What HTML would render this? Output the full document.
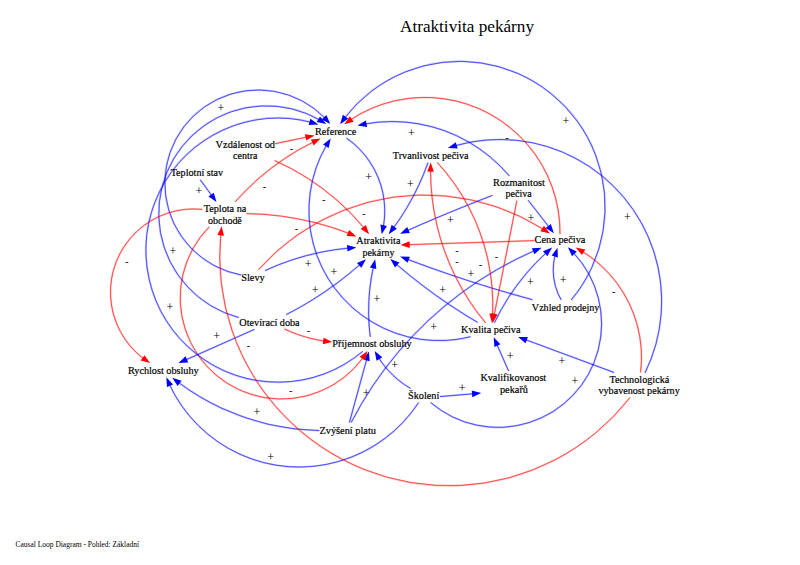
<!DOCTYPE html>
<html lang="cs"><head><meta charset="utf-8"><title>Atraktivita pekárny</title>
<style>html,body{margin:0;padding:0;background:#fff}body{width:800px;height:565px;overflow:hidden}svg{display:block}</style>
</head><body>
<svg width="800" height="565" viewBox="0 0 800 565">
<g stroke-width="2.0" stroke-opacity="0.22" stroke-linecap="butt">
<path d="M200.20 179.60L211.98 195.86" stroke="#0000ff" fill="none"/>
<path d="M275.00 143.70L307.06 137.06" stroke="#ff0000" fill="none"/>
<path d="M235.10 201.90A254.56 254.56 0 0 1 258.59 178.50A254.56 254.56 0 0 1 284.92 158.35A254.56 254.56 0 0 1 313.64 141.80" stroke="#ff0000" fill="none"/>
<path d="M274.40 160.40A244.80 244.80 0 0 1 307.75 178.26A244.80 244.80 0 0 1 337.95 201.04A244.80 244.80 0 0 1 364.28 228.20" stroke="#ff0000" fill="none"/>
<path d="M246.30 213.60A294.58 294.58 0 0 1 281.33 216.12A294.58 294.58 0 0 1 315.81 222.79A294.58 294.58 0 0 1 349.26 233.52" stroke="#ff0000" fill="none"/>
<path d="M265.00 270.60A254.64 254.64 0 0 1 291.99 259.92A254.64 254.64 0 0 1 320.02 252.39A254.64 254.64 0 0 1 348.72 248.09" stroke="#0000ff" fill="none"/>
<path d="M258.50 269.70A222.32 222.32 0 0 1 343.25 210.48A222.32 222.32 0 0 1 445.61 196.00A222.32 222.32 0 0 1 543.46 229.38" stroke="#ff0000" fill="none"/>
<path d="M346.50 138.10A88.87 88.87 0 0 1 369.99 162.10A88.87 88.87 0 0 1 382.90 193.11A88.87 88.87 0 0 1 383.37 226.69" stroke="#0000ff" fill="none"/>
<path d="M470.60 336.70A130.07 130.07 0 0 1 372.59 322.36A130.07 130.07 0 0 1 313.10 243.16A130.07 130.07 0 0 1 326.63 145.03" stroke="#0000ff" fill="none"/>
<path d="M428.00 162.60A250.25 250.25 0 0 1 418.64 185.53A250.25 250.25 0 0 1 407.05 207.43A250.25 250.25 0 0 1 393.36 228.07" stroke="#0000ff" fill="none"/>
<path d="M492.50 195.40A1776.29 1776.29 0 0 0 463.84 206.66A1776.29 1776.29 0 0 0 435.38 218.41A1776.29 1776.29 0 0 0 407.13 230.66" stroke="#0000ff" fill="none"/>
<path d="M534.60 240.60L408.20 244.65" stroke="#ff0000" fill="none"/>
<path d="M532.50 299.70A1316.59 1316.59 0 0 1 490.32 287.61A1316.59 1316.59 0 0 1 448.57 274.12A1316.59 1316.59 0 0 1 407.29 259.25" stroke="#0000ff" fill="none"/>
<path d="M477.60 322.40A549.86 549.86 0 0 1 449.26 304.59A549.86 549.86 0 0 1 422.06 285.10A549.86 549.86 0 0 1 396.09 263.98" stroke="#0000ff" fill="none"/>
<path d="M370.20 336.80A206.18 206.18 0 0 1 368.60 313.36A206.18 206.18 0 0 1 369.67 289.89A206.18 206.18 0 0 1 373.40 266.69" stroke="#0000ff" fill="none"/>
<path d="M286.20 314.70A360.87 360.87 0 0 0 312.26 299.99A360.87 360.87 0 0 0 337.00 283.16A360.87 360.87 0 0 0 360.27 264.35" stroke="#0000ff" fill="none"/>
<path d="M351.20 422.50A374.55 374.55 0 0 1 398.60 351.68A374.55 374.55 0 0 1 460.77 293.41A374.55 374.55 0 0 1 534.51 250.70" stroke="#0000ff" fill="none"/>
<path d="M349.40 422.50L366.86 358.83" stroke="#0000ff" fill="none"/>
<path d="M410.60 388.50A93.25 93.25 0 0 1 398.32 380.02A93.25 93.25 0 0 1 387.54 369.68A93.25 93.25 0 0 1 378.56 357.76" stroke="#0000ff" fill="none"/>
<path d="M284.40 329.00A145.95 145.95 0 0 0 297.41 334.34A145.95 145.95 0 0 0 310.87 338.41A145.95 145.95 0 0 0 324.66 341.16" stroke="#ff0000" fill="none"/>
<path d="M209.30 226.80A101.22 101.22 0 0 0 185.32 329.52A101.22 101.22 0 0 0 265.73 397.79A101.22 101.22 0 0 0 363.20 357.49" stroke="#ff0000" fill="none"/>
<path d="M362.70 351.40A132.05 132.05 0 0 1 196.27 353.86A132.05 132.05 0 0 1 159.64 191.49A132.05 132.05 0 0 1 311.01 122.26" stroke="#0000ff" fill="none"/>
<path d="M238.70 317.50A107.63 107.63 0 0 1 160.45 232.50A107.63 107.63 0 0 1 204.26 125.60A107.63 107.63 0 0 1 319.65 119.95" stroke="#0000ff" fill="none"/>
<path d="M241.20 275.00A93.29 93.29 0 0 1 165.71 195.83A93.29 93.29 0 0 1 217.32 99.38A93.29 93.29 0 0 1 325.07 118.26" stroke="#0000ff" fill="none"/>
<path d="M202.40 209.40A83.25 83.25 0 0 0 136.21 232.03A83.25 83.25 0 0 0 110.63 297.14A83.25 83.25 0 0 0 143.74 358.77" stroke="#ff0000" fill="none"/>
<path d="M254.40 329.40L185.54 359.98" stroke="#0000ff" fill="none"/>
<path d="M319.40 430.60A242.38 242.38 0 0 1 269.37 424.52A242.38 242.38 0 0 1 221.68 408.22A242.38 242.38 0 0 1 178.39 382.41" stroke="#0000ff" fill="none"/>
<path d="M418.70 402.50A143.11 143.11 0 0 1 338.84 461.41A143.11 143.11 0 0 1 239.86 454.21A143.11 143.11 0 0 1 169.36 384.36" stroke="#0000ff" fill="none"/>
<path d="M440.00 396.60L473.53 393.75" stroke="#0000ff" fill="none"/>
<path d="M430.60 402.50A103.62 103.62 0 0 0 528.94 422.62A103.62 103.62 0 0 0 598.19 349.96A103.62 103.62 0 0 0 573.38 252.70" stroke="#0000ff" fill="none"/>
<path d="M508.70 371.20L496.81 344.24" stroke="#0000ff" fill="none"/>
<path d="M614.10 372.50L525.32 339.58" stroke="#0000ff" fill="none"/>
<path d="M640.60 372.50A124.61 124.61 0 0 0 637.37 325.60A124.61 124.61 0 0 0 616.99 283.24A124.61 124.61 0 0 0 582.37 251.44" stroke="#ff0000" fill="none"/>
<path d="M630.00 397.50A229.44 229.44 0 0 1 460.39 485.46A229.44 229.44 0 0 1 282.99 414.51A229.44 229.44 0 0 1 220.82 233.85" stroke="#ff0000" fill="none"/>
<path d="M645.00 372.90A161.89 161.89 0 0 0 653.88 251.77A161.89 161.89 0 0 0 576.03 158.55A161.89 161.89 0 0 0 455.25 145.71" stroke="#0000ff" fill="none"/>
<path d="M571.20 300.00A145.34 145.34 0 0 0 595.60 155.00A145.34 145.34 0 0 0 480.97 62.90A145.34 145.34 0 0 0 344.64 117.98" stroke="#0000ff" fill="none"/>
<path d="M560.00 234.20A135.06 135.06 0 0 0 527.41 144.46A135.06 135.06 0 0 0 443.62 98.69A135.06 135.06 0 0 0 350.50 119.77" stroke="#ff0000" fill="none"/>
<path d="M509.40 176.00A153.45 153.45 0 0 0 468.47 141.87A153.45 153.45 0 0 0 418.34 123.79A153.45 153.45 0 0 0 365.04 123.95" stroke="#0000ff" fill="none"/>
<path d="M528.10 200.20L549.17 227.23" stroke="#0000ff" fill="none"/>
<path d="M516.90 200.60L494.10 315.35" stroke="#ff0000" fill="none"/>
<path d="M437.20 162.40A210.03 210.03 0 0 1 469.07 207.79A210.03 210.03 0 0 1 487.95 259.94A210.03 210.03 0 0 1 492.53 315.22" stroke="#ff0000" fill="none"/>
<path d="M485.60 322.90A238.22 238.22 0 0 1 455.50 276.72A238.22 238.22 0 0 1 436.82 224.86A238.22 238.22 0 0 1 430.56 170.10" stroke="#ff0000" fill="none"/>
<path d="M494.40 322.70A227.20 227.20 0 0 1 508.65 297.20A227.20 227.20 0 0 1 526.05 273.73A227.20 227.20 0 0 1 546.32 252.69" stroke="#0000ff" fill="none"/>
<path d="M561.20 300.00A60.30 60.30 0 0 1 555.29 285.70A60.30 60.30 0 0 1 553.22 270.37A60.30 60.30 0 0 1 555.11 255.02" stroke="#0000ff" fill="none"/>
</g>
<g stroke-width="1.0" stroke-opacity="0.62" stroke-linecap="butt">
<path d="M200.20 179.60L211.98 195.86" stroke="#0000ff" fill="none"/>
<path d="M275.00 143.70L307.06 137.06" stroke="#ff0000" fill="none"/>
<path d="M235.10 201.90A254.56 254.56 0 0 1 258.59 178.50A254.56 254.56 0 0 1 284.92 158.35A254.56 254.56 0 0 1 313.64 141.80" stroke="#ff0000" fill="none"/>
<path d="M274.40 160.40A244.80 244.80 0 0 1 307.75 178.26A244.80 244.80 0 0 1 337.95 201.04A244.80 244.80 0 0 1 364.28 228.20" stroke="#ff0000" fill="none"/>
<path d="M246.30 213.60A294.58 294.58 0 0 1 281.33 216.12A294.58 294.58 0 0 1 315.81 222.79A294.58 294.58 0 0 1 349.26 233.52" stroke="#ff0000" fill="none"/>
<path d="M265.00 270.60A254.64 254.64 0 0 1 291.99 259.92A254.64 254.64 0 0 1 320.02 252.39A254.64 254.64 0 0 1 348.72 248.09" stroke="#0000ff" fill="none"/>
<path d="M258.50 269.70A222.32 222.32 0 0 1 343.25 210.48A222.32 222.32 0 0 1 445.61 196.00A222.32 222.32 0 0 1 543.46 229.38" stroke="#ff0000" fill="none"/>
<path d="M346.50 138.10A88.87 88.87 0 0 1 369.99 162.10A88.87 88.87 0 0 1 382.90 193.11A88.87 88.87 0 0 1 383.37 226.69" stroke="#0000ff" fill="none"/>
<path d="M470.60 336.70A130.07 130.07 0 0 1 372.59 322.36A130.07 130.07 0 0 1 313.10 243.16A130.07 130.07 0 0 1 326.63 145.03" stroke="#0000ff" fill="none"/>
<path d="M428.00 162.60A250.25 250.25 0 0 1 418.64 185.53A250.25 250.25 0 0 1 407.05 207.43A250.25 250.25 0 0 1 393.36 228.07" stroke="#0000ff" fill="none"/>
<path d="M492.50 195.40A1776.29 1776.29 0 0 0 463.84 206.66A1776.29 1776.29 0 0 0 435.38 218.41A1776.29 1776.29 0 0 0 407.13 230.66" stroke="#0000ff" fill="none"/>
<path d="M534.60 240.60L408.20 244.65" stroke="#ff0000" fill="none"/>
<path d="M532.50 299.70A1316.59 1316.59 0 0 1 490.32 287.61A1316.59 1316.59 0 0 1 448.57 274.12A1316.59 1316.59 0 0 1 407.29 259.25" stroke="#0000ff" fill="none"/>
<path d="M477.60 322.40A549.86 549.86 0 0 1 449.26 304.59A549.86 549.86 0 0 1 422.06 285.10A549.86 549.86 0 0 1 396.09 263.98" stroke="#0000ff" fill="none"/>
<path d="M370.20 336.80A206.18 206.18 0 0 1 368.60 313.36A206.18 206.18 0 0 1 369.67 289.89A206.18 206.18 0 0 1 373.40 266.69" stroke="#0000ff" fill="none"/>
<path d="M286.20 314.70A360.87 360.87 0 0 0 312.26 299.99A360.87 360.87 0 0 0 337.00 283.16A360.87 360.87 0 0 0 360.27 264.35" stroke="#0000ff" fill="none"/>
<path d="M351.20 422.50A374.55 374.55 0 0 1 398.60 351.68A374.55 374.55 0 0 1 460.77 293.41A374.55 374.55 0 0 1 534.51 250.70" stroke="#0000ff" fill="none"/>
<path d="M349.40 422.50L366.86 358.83" stroke="#0000ff" fill="none"/>
<path d="M410.60 388.50A93.25 93.25 0 0 1 398.32 380.02A93.25 93.25 0 0 1 387.54 369.68A93.25 93.25 0 0 1 378.56 357.76" stroke="#0000ff" fill="none"/>
<path d="M284.40 329.00A145.95 145.95 0 0 0 297.41 334.34A145.95 145.95 0 0 0 310.87 338.41A145.95 145.95 0 0 0 324.66 341.16" stroke="#ff0000" fill="none"/>
<path d="M209.30 226.80A101.22 101.22 0 0 0 185.32 329.52A101.22 101.22 0 0 0 265.73 397.79A101.22 101.22 0 0 0 363.20 357.49" stroke="#ff0000" fill="none"/>
<path d="M362.70 351.40A132.05 132.05 0 0 1 196.27 353.86A132.05 132.05 0 0 1 159.64 191.49A132.05 132.05 0 0 1 311.01 122.26" stroke="#0000ff" fill="none"/>
<path d="M238.70 317.50A107.63 107.63 0 0 1 160.45 232.50A107.63 107.63 0 0 1 204.26 125.60A107.63 107.63 0 0 1 319.65 119.95" stroke="#0000ff" fill="none"/>
<path d="M241.20 275.00A93.29 93.29 0 0 1 165.71 195.83A93.29 93.29 0 0 1 217.32 99.38A93.29 93.29 0 0 1 325.07 118.26" stroke="#0000ff" fill="none"/>
<path d="M202.40 209.40A83.25 83.25 0 0 0 136.21 232.03A83.25 83.25 0 0 0 110.63 297.14A83.25 83.25 0 0 0 143.74 358.77" stroke="#ff0000" fill="none"/>
<path d="M254.40 329.40L185.54 359.98" stroke="#0000ff" fill="none"/>
<path d="M319.40 430.60A242.38 242.38 0 0 1 269.37 424.52A242.38 242.38 0 0 1 221.68 408.22A242.38 242.38 0 0 1 178.39 382.41" stroke="#0000ff" fill="none"/>
<path d="M418.70 402.50A143.11 143.11 0 0 1 338.84 461.41A143.11 143.11 0 0 1 239.86 454.21A143.11 143.11 0 0 1 169.36 384.36" stroke="#0000ff" fill="none"/>
<path d="M440.00 396.60L473.53 393.75" stroke="#0000ff" fill="none"/>
<path d="M430.60 402.50A103.62 103.62 0 0 0 528.94 422.62A103.62 103.62 0 0 0 598.19 349.96A103.62 103.62 0 0 0 573.38 252.70" stroke="#0000ff" fill="none"/>
<path d="M508.70 371.20L496.81 344.24" stroke="#0000ff" fill="none"/>
<path d="M614.10 372.50L525.32 339.58" stroke="#0000ff" fill="none"/>
<path d="M640.60 372.50A124.61 124.61 0 0 0 637.37 325.60A124.61 124.61 0 0 0 616.99 283.24A124.61 124.61 0 0 0 582.37 251.44" stroke="#ff0000" fill="none"/>
<path d="M630.00 397.50A229.44 229.44 0 0 1 460.39 485.46A229.44 229.44 0 0 1 282.99 414.51A229.44 229.44 0 0 1 220.82 233.85" stroke="#ff0000" fill="none"/>
<path d="M645.00 372.90A161.89 161.89 0 0 0 653.88 251.77A161.89 161.89 0 0 0 576.03 158.55A161.89 161.89 0 0 0 455.25 145.71" stroke="#0000ff" fill="none"/>
<path d="M571.20 300.00A145.34 145.34 0 0 0 595.60 155.00A145.34 145.34 0 0 0 480.97 62.90A145.34 145.34 0 0 0 344.64 117.98" stroke="#0000ff" fill="none"/>
<path d="M560.00 234.20A135.06 135.06 0 0 0 527.41 144.46A135.06 135.06 0 0 0 443.62 98.69A135.06 135.06 0 0 0 350.50 119.77" stroke="#ff0000" fill="none"/>
<path d="M509.40 176.00A153.45 153.45 0 0 0 468.47 141.87A153.45 153.45 0 0 0 418.34 123.79A153.45 153.45 0 0 0 365.04 123.95" stroke="#0000ff" fill="none"/>
<path d="M528.10 200.20L549.17 227.23" stroke="#0000ff" fill="none"/>
<path d="M516.90 200.60L494.10 315.35" stroke="#ff0000" fill="none"/>
<path d="M437.20 162.40A210.03 210.03 0 0 1 469.07 207.79A210.03 210.03 0 0 1 487.95 259.94A210.03 210.03 0 0 1 492.53 315.22" stroke="#ff0000" fill="none"/>
<path d="M485.60 322.90A238.22 238.22 0 0 1 455.50 276.72A238.22 238.22 0 0 1 436.82 224.86A238.22 238.22 0 0 1 430.56 170.10" stroke="#ff0000" fill="none"/>
<path d="M494.40 322.70A227.20 227.20 0 0 1 508.65 297.20A227.20 227.20 0 0 1 526.05 273.73A227.20 227.20 0 0 1 546.32 252.69" stroke="#0000ff" fill="none"/>
<path d="M561.20 300.00A60.30 60.30 0 0 1 555.29 285.70A60.30 60.30 0 0 1 553.22 270.37A60.30 60.30 0 0 1 555.11 255.02" stroke="#0000ff" fill="none"/>
</g>
<g>
<polygon points="216.50,202.10 208.43,196.59 213.78,192.71" fill="#0000ff"/>
<polygon points="314.60,135.50 306.26,140.60 304.92,134.13" fill="#ff0000"/>
<polygon points="320.60,138.50 313.72,145.44 310.88,139.49" fill="#ff0000"/>
<polygon points="369.10,234.20 360.75,229.12 365.88,224.97" fill="#ff0000"/>
<polygon points="356.40,236.40 346.63,236.05 349.08,229.92" fill="#ff0000"/>
<polygon points="356.40,247.50 347.49,251.52 346.97,244.94" fill="#0000ff"/>
<polygon points="549.90,233.60 540.39,231.34 543.99,225.81" fill="#ff0000"/>
<polygon points="381.70,234.20 380.40,224.52 386.85,225.90" fill="#0000ff"/>
<polygon points="330.70,138.50 328.69,148.06 323.07,144.61" fill="#0000ff"/>
<polygon points="388.70,234.20 391.62,224.87 396.88,228.85" fill="#0000ff"/>
<polygon points="400.10,233.80 407.16,227.04 409.85,233.07" fill="#0000ff"/>
<polygon points="400.50,244.90 409.59,241.31 409.80,247.90" fill="#ff0000"/>
<polygon points="400.10,256.50 409.87,256.70 407.52,262.87" fill="#0000ff"/>
<polygon points="390.30,258.90 399.40,262.47 395.05,267.44" fill="#0000ff"/>
<polygon points="375.20,259.20 376.30,268.91 369.88,267.40" fill="#0000ff"/>
<polygon points="366.00,259.20 361.35,267.79 356.94,262.88" fill="#0000ff"/>
<polygon points="541.60,247.70 534.43,254.34 531.84,248.27" fill="#0000ff"/>
<polygon points="368.90,351.40 369.65,361.15 363.28,359.40" fill="#0000ff"/>
<polygon points="374.70,351.10 382.21,357.35 376.53,360.70" fill="#0000ff"/>
<polygon points="332.30,342.10 322.76,344.20 323.60,337.66" fill="#ff0000"/>
<polygon points="367.50,351.10 365.03,360.55 359.58,356.83" fill="#ff0000"/>
<polygon points="318.40,124.40 308.65,125.07 310.45,118.72" fill="#0000ff"/>
<polygon points="326.20,124.00 316.63,122.04 320.06,116.40" fill="#0000ff"/>
<polygon points="330.20,124.00 321.57,119.41 326.46,114.97" fill="#0000ff"/>
<polygon points="150.10,363.10 140.66,360.57 144.43,355.14" fill="#ff0000"/>
<polygon points="178.50,363.10 185.57,356.35 188.25,362.38" fill="#0000ff"/>
<polygon points="172.30,377.70 181.61,380.68 177.59,385.92" fill="#0000ff"/>
<polygon points="166.30,377.30 173.02,384.39 166.98,387.05" fill="#0000ff"/>
<polygon points="481.20,393.10 472.31,397.17 471.75,390.59" fill="#0000ff"/>
<polygon points="567.90,247.30 576.74,251.47 572.07,256.14" fill="#0000ff"/>
<polygon points="493.70,337.20 500.43,344.29 494.39,346.95" fill="#0000ff"/>
<polygon points="518.10,336.90 527.87,337.00 525.58,343.19" fill="#0000ff"/>
<polygon points="575.70,247.60 585.31,249.39 581.98,255.09" fill="#ff0000"/>
<polygon points="221.70,226.20 223.96,235.71 217.40,234.98" fill="#ff0000"/>
<polygon points="447.90,148.00 455.73,142.15 457.66,148.46" fill="#0000ff"/>
<polygon points="340.10,124.20 342.90,114.84 348.21,118.75" fill="#0000ff"/>
<polygon points="344.20,124.20 349.87,116.24 353.64,121.67" fill="#ff0000"/>
<polygon points="357.50,125.50 365.87,120.46 367.17,126.93" fill="#0000ff"/>
<polygon points="553.90,233.30 545.64,228.07 550.85,224.02" fill="#0000ff"/>
<polygon points="492.60,322.90 491.16,313.23 497.63,314.52" fill="#ff0000"/>
<polygon points="492.00,322.90 489.30,313.51 495.89,313.93" fill="#ff0000"/>
<polygon points="430.70,162.40 433.86,171.65 427.26,171.55" fill="#ff0000"/>
<polygon points="552.10,247.60 547.41,256.18 543.03,251.24" fill="#0000ff"/>
<polygon points="557.50,247.70 557.91,257.46 551.61,255.49" fill="#0000ff"/>
</g>
<g font-family="'Liberation Serif','Times New Roman',serif" fill="#000" stroke="#000" stroke-width="0.2" text-anchor="middle">
<text x="467" y="32.4" font-size="17.4" textLength="134" lengthAdjust="spacingAndGlyphs" stroke="none">Atraktivita pekárny</text>
<text x="77.3" y="547.4" font-size="8.5" textLength="123.5" lengthAdjust="spacingAndGlyphs" stroke="none">Causal Loop Diagram - Pohled: Základní</text>
<text x="335.6" y="135.1" font-size="11.1" textLength="41.1" lengthAdjust="spacingAndGlyphs">Reference</text>
<text x="245.3" y="147.6" font-size="11.1" textLength="59.4" lengthAdjust="spacingAndGlyphs">Vzdálenost od</text>
<text x="245.3" y="158.9" font-size="11.1" textLength="24.4" lengthAdjust="spacingAndGlyphs">centra</text>
<text x="196.9" y="176.1" font-size="11.1" textLength="52.5" lengthAdjust="spacingAndGlyphs">Teplotní stav</text>
<text x="225" y="212.1" font-size="11.1" textLength="42.7" lengthAdjust="spacingAndGlyphs">Teplota na</text>
<text x="224.9" y="223.9" font-size="11.1" textLength="33.8" lengthAdjust="spacingAndGlyphs">obchodě</text>
<text x="253" y="281.0" font-size="11.1" textLength="23.5" lengthAdjust="spacingAndGlyphs">Slevy</text>
<text x="269.5" y="325.8" font-size="11.1" textLength="60.3" lengthAdjust="spacingAndGlyphs">Otevírací doba</text>
<text x="163.3" y="373.6" font-size="11.1" textLength="70.8" lengthAdjust="spacingAndGlyphs">Rychlost obsluhy</text>
<text x="372" y="346.8" font-size="11.1" textLength="79.3" lengthAdjust="spacingAndGlyphs">Příjemnost obsluhy</text>
<text x="347.7" y="433.5" font-size="11.1" textLength="56.6" lengthAdjust="spacingAndGlyphs">Zvýšení platu</text>
<text x="423.7" y="398.5" font-size="11.1" textLength="31.3" lengthAdjust="spacingAndGlyphs">Školení</text>
<text x="513.3" y="381.0" font-size="11.1" textLength="65.8" lengthAdjust="spacingAndGlyphs">Kvalifikovanost</text>
<text x="514" y="393.3" font-size="11.1" textLength="28.1" lengthAdjust="spacingAndGlyphs">pekařů</text>
<text x="639.4" y="382.6" font-size="11.1" textLength="60" lengthAdjust="spacingAndGlyphs">Technologická</text>
<text x="639.1" y="394.1" font-size="11.1" textLength="81.2" lengthAdjust="spacingAndGlyphs">vybavenost pekárny</text>
<text x="490.8" y="332.7" font-size="11.1" textLength="59.5" lengthAdjust="spacingAndGlyphs">Kvalita pečiva</text>
<text x="565.6" y="310.6" font-size="11.1" textLength="67.5" lengthAdjust="spacingAndGlyphs">Vzhled prodejny</text>
<text x="560" y="243.3" font-size="11.1" textLength="50.8" lengthAdjust="spacingAndGlyphs">Cena pečiva</text>
<text x="519" y="185.8" font-size="11.1" textLength="51.9" lengthAdjust="spacingAndGlyphs">Rozmanitost</text>
<text x="518.7" y="197.0" font-size="11.1" textLength="26.3" lengthAdjust="spacingAndGlyphs">pečiva</text>
<text x="430.7" y="159.1" font-size="11.1" textLength="75.9" lengthAdjust="spacingAndGlyphs">Trvanlivost pečiva</text>
<text x="378.4" y="243.8" font-size="11.1" textLength="44.1" lengthAdjust="spacingAndGlyphs">Atraktivita</text>
<text x="378.4" y="255.5" font-size="11.1" textLength="31.9" lengthAdjust="spacingAndGlyphs">pekárny</text>
<text x="221" y="111.9" font-size="12" stroke="none">+</text>
<text x="291.5" y="152.1" font-size="10.5" stroke="none">-</text>
<text x="264.4" y="189.7" font-size="10.5" stroke="none">-</text>
<text x="198.8" y="195.2" font-size="12" stroke="none">+</text>
<text x="411.4" y="136.9" font-size="12" stroke="none">+</text>
<text x="368.7" y="180.9" font-size="12" stroke="none">+</text>
<text x="410.4" y="188.1" font-size="12" stroke="none">+</text>
<text x="323.7" y="202.9" font-size="10.5" stroke="none">-</text>
<text x="363.7" y="216.6" font-size="10.5" stroke="none">-</text>
<text x="450.5" y="223.9" font-size="12" stroke="none">+</text>
<text x="566" y="124.9" font-size="12" stroke="none">+</text>
<text x="507" y="140.9" font-size="10.5" stroke="none">-</text>
<text x="531" y="222.1" font-size="12" stroke="none">+</text>
<text x="627.5" y="220.9" font-size="12" stroke="none">+</text>
<text x="296.5" y="231.6" font-size="10.5" stroke="none">-</text>
<text x="173" y="254.9" font-size="12" stroke="none">+</text>
<text x="126.7" y="264.9" font-size="10.5" stroke="none">-</text>
<text x="170" y="310.6" font-size="12" stroke="none">+</text>
<text x="216.7" y="339.9" font-size="12" stroke="none">+</text>
<text x="308.1" y="268.4" font-size="12" stroke="none">+</text>
<text x="334" y="275.6" font-size="12" stroke="none">+</text>
<text x="315.2" y="293.9" font-size="12" stroke="none">+</text>
<text x="377" y="302.9" font-size="12" stroke="none">+</text>
<text x="457" y="253.7" font-size="10.5" stroke="none">-</text>
<text x="457" y="264.9" font-size="10.5" stroke="none">-</text>
<text x="471" y="278.1" font-size="12" stroke="none">+</text>
<text x="442.6" y="293.9" font-size="12" stroke="none">+</text>
<text x="433.7" y="331.4" font-size="12" stroke="none">+</text>
<text x="308.5" y="333.5" font-size="10.5" stroke="none">-</text>
<text x="496.6" y="259.9" font-size="10.5" stroke="none">-</text>
<text x="480.5" y="267.9" font-size="10.5" stroke="none">-</text>
<text x="530.3" y="285.9" font-size="12" stroke="none">+</text>
<text x="563.1" y="284.3" font-size="12" stroke="none">+</text>
<text x="613.7" y="295.2" font-size="10.5" stroke="none">-</text>
<text x="248.4" y="349.3" font-size="10.5" stroke="none">-</text>
<text x="290.7" y="393.9" font-size="10.5" stroke="none">-</text>
<text x="257" y="415.6" font-size="12" stroke="none">+</text>
<text x="270.7" y="460.6" font-size="12" stroke="none">+</text>
<text x="394.7" y="369.3" font-size="12" stroke="none">+</text>
<text x="366.2" y="396.9" font-size="12" stroke="none">+</text>
<text x="462.1" y="391.8" font-size="12" stroke="none">+</text>
<text x="510.2" y="359.9" font-size="12" stroke="none">+</text>
<text x="561.9" y="364.9" font-size="12" stroke="none">+</text>
<text x="575" y="384.9" font-size="12" stroke="none">+</text>
</g>
</svg>
</body></html>
